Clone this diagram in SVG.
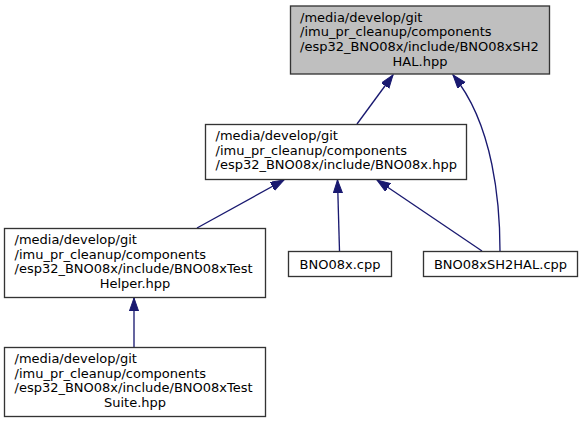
<svg xmlns="http://www.w3.org/2000/svg" width="583" height="423" viewBox="0 0 583 423">
<style>
.box{fill:#ffffff;stroke:#333333;stroke-width:1.33}
.root{fill:#bfbfbf;stroke:#333333;stroke-width:1.33}
text{font-family:"DejaVu Sans",sans-serif;font-size:13px;fill:#000000}
.c{text-anchor:middle}
.edge{fill:none;stroke:#191970;stroke-width:1.33;marker-end:url(#arr)}
</style>
<defs>
<marker id="arr" markerUnits="userSpaceOnUse" markerWidth="16" markerHeight="12" refX="13.3" refY="4.67" orient="auto">
<path d="M0,0 L13.3,4.67 L0,9.33 Z" fill="#191970" stroke="#191970" stroke-width="1"/>
</marker>
</defs>
<rect width="583" height="423" fill="#ffffff"/>
<g id="edges">
<path class="edge" d="M357,124 L393,75"/>
<path class="edge" d="M500,251 C500,205 494,125 453,75"/>
<path class="edge" d="M197,228 L284,180"/>
<path class="edge" d="M339.5,251 L337.5,180"/>
<path class="edge" d="M482,251 L377,180"/>
<path class="edge" d="M134,347 L134,298"/>
</g>
<g id="node-sh2hal-hpp">
<rect class="root" x="290.5" y="6" width="259" height="68"/>
<text x="300" y="21.5">/media/develop/git</text>
<text x="300" y="36.2">/imu_pr_cleanup/components</text>
<text x="300" y="50.8">/esp32_BNO08x/include/BNO08xSH2</text>
<text class="c" x="420" y="65.5">HAL.hpp</text>
</g>
<g id="node-bno08x-hpp">
<rect class="box" x="205.5" y="124.5" width="261" height="55"/>
<text x="215.5" y="140">/media/develop/git</text>
<text x="215.5" y="154.7">/imu_pr_cleanup/components</text>
<text x="215.5" y="169.3">/esp32_BNO08x/include/BNO08x.hpp</text>
</g>
<g id="node-testhelper">
<rect class="box" x="4.5" y="228.5" width="261" height="69"/>
<text x="14.5" y="244">/media/develop/git</text>
<text x="14.5" y="258.7">/imu_pr_cleanup/components</text>
<text x="14.5" y="273.3">/esp32_BNO08x/include/BNO08xTest</text>
<text class="c" x="135" y="288">Helper.hpp</text>
</g>
<g id="node-testsuite">
<rect class="box" x="4.5" y="347.5" width="261" height="69"/>
<text x="14.5" y="363">/media/develop/git</text>
<text x="14.5" y="377.7">/imu_pr_cleanup/components</text>
<text x="14.5" y="392.3">/esp32_BNO08x/include/BNO08xTest</text>
<text class="c" x="135" y="407">Suite.hpp</text>
</g>
<g id="node-bno08x-cpp">
<rect class="box" x="288.5" y="251.5" width="103" height="25"/>
<text class="c" x="340" y="268.5">BNO08x.cpp</text>
</g>
<g id="node-sh2hal-cpp">
<rect class="box" x="423.5" y="251.5" width="154" height="25"/>
<text class="c" x="500.5" y="268.5">BNO08xSH2HAL.cpp</text>
</g>
</svg>
